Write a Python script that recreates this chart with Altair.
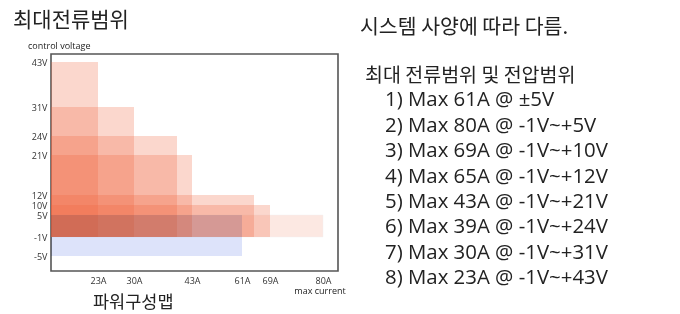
import altair as alt
import pandas as pd

# ---- data ----
currents = [80, 69, 65, 43, 39, 30, 23]          # max current (A)
volts = [5, 10, 12, 21, 24, 31, 43]              # max voltage (V), from -1V
neg_current = 61                                  # ±5V range
neg_lo, neg_hi = -5, 5
x_ticks = [23, 30, 43, 61, 69, 80]
y_ticks = [-5, -1, 5, 10, 12, 21, 24, 31, 43]
spec_lines = [
    "1) Max 61A @ ±5V",
    "2) Max 80A @ -1V~+5V",
    "3) Max 69A @ -1V~+10V",
    "4) Max 65A @ -1V~+12V",
    "5) Max 43A @ -1V~+21V",
    "6) Max 39A @ -1V~+24V",
    "7) Max 30A @ -1V~+31V",
    "8) Max 23A @ -1V~+43V",
]

KR = "Noto Sans CJK KR"
LAT = "Open Sans"
TXT = "#222222"

W, H = 287, 217
xscale = alt.Scale(domain=[0, 23, 30, 39, 43, 61, 65, 69, 80, 84.4],
                   range=[0, 47, 83, 126, 141, 191, 203, 219, 272, 287],
                   zero=False, nice=False)
yscale = alt.Scale(domain=[-8.2, -5, -1, 5, 10, 12, 21, 24, 31, 43, 45.1],
                   range=[217, 202, 183, 161, 151, 141, 101, 82, 53, 8, 0],
                   zero=False, nice=False)

rects = pd.DataFrame({"x0": 0, "x1": currents[1:], "y0": -1, "y1": volts[1:]})
rect80 = pd.DataFrame({"x0": [0], "x1": [currents[0]], "y0": [-1], "y1": [volts[0]]})
blue = pd.DataFrame({"x0": [0], "x1": [neg_current], "y0": [neg_lo], "y1": [neg_hi]})


def xaxis():
    return alt.Axis(values=x_ticks, labelExpr="datum.value + 'A'", title=None,
                    ticks=False, domain=False, grid=False, labelPadding=5,
                    labelOverlap=False, labelFont=LAT, labelFontSize=9, labelColor="#333")


def yaxis():
    return alt.Axis(values=y_ticks, labelExpr="datum.value + 'V'", title=None,
                    ticks=False, domain=False, grid=False, labelPadding=4,
                    labelOverlap=False, labelFont=LAT, labelFontSize=9, labelColor="#333")


def rect_layer(df, **mark):
    return alt.Chart(df).mark_rect(**mark).encode(
        x=alt.X("x0:Q", scale=xscale, axis=xaxis()), x2="x1:Q",
        y=alt.Y("y0:Q", scale=yscale, axis=yaxis()), y2="y1:Q")


base_orange = rect_layer(rects, color="#F0643C", opacity=0.26)
r80 = rect_layer(rect80, color="#F0643C", opacity=0.14, stroke="#9a9a9a",
                 strokeOpacity=0.35, strokeWidth=1)
rblue = rect_layer(blue, color="#D7DEFA", opacity=0.85, blend="multiply")


def label(text, x, y, size, font, align="left", baseline="middle"):
    return alt.Chart(pd.DataFrame({"t": [text]})).mark_text(
        align=align, baseline=baseline, font=font, fontSize=size, color=TXT
    ).encode(text="t:N", x=alt.value(x), y=alt.value(y))


texts = [
    label("최대전류범위", -38, -33, 21, KR),
    label("control voltage", -23, -8, 9, LAT),
    label("max current", 269, 237, 9, LAT, align="center"),
    label("파워구성맵", 42, 249, 17.5, KR),
    label("시스템 사양에 따라 다름.", 309, -26.5, 20.5, KR),
    label("최대 전류범위 및 전압범위", 314, 22, 19.5, KR),
]
for i, ln in enumerate(spec_lines):
    texts.append(label(ln, 334, 52.3 + i * 25.4, 20.4, LAT, baseline="alphabetic"))

chart = alt.layer(base_orange, r80, rblue, *texts).properties(
    width=W, height=H,
    background="white",
    autosize=alt.AutoSizeParams(type="none"),
    padding={"left": 43, "top": 46, "right": 334, "bottom": 43},
).configure_view(stroke="#555555", strokeWidth=1.6).configure_axis(labelOverlap=False)

chart.save("out.html", embed_options={"renderer": "svg", "actions": False})
